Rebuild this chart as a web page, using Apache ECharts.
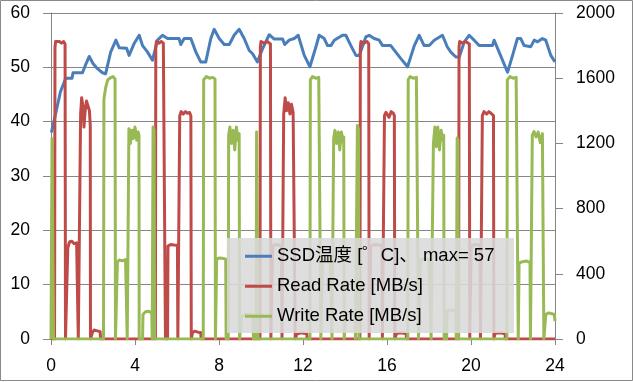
<!DOCTYPE html>
<html>
<head>
<meta charset="utf-8">
<script src="https://cdn.jsdelivr.net/npm/echarts@6/dist/echarts.min.js"></script>
<style>
html,body{margin:0;padding:0;background:#fff;}
#chart{width:633px;height:382px;}
</style>
</head>
<body>
<div id="chart"></div>
<script>
// ---- data ----
const seriesNames = ['SSD温度 [゜C]、 max= 57', 'Read Rate [MB/s]', 'Write Rate [MB/s]'];
const xTicks = [0, 4, 8, 12, 16, 20, 24];

// SSD temperature [°C] : [hour, value]
const tempPoints = [
 [0.02,38],[0.25,42],[0.45,45.5],[0.7,48],[1.0,48],[1.05,49],[1.5,49],[1.65,50.5],[1.82,52],
 [2.0,50.7],[2.2,49.8],[2.45,49],[2.6,48.8],[2.84,52.8],[3.09,55],[3.25,53.6],[3.6,53.5],[3.72,52.2],
 [3.96,54.4],[4.2,55.9],[4.36,54],[4.6,52.8],[4.83,51.3],[5.07,55],[5.31,55.9],[5.55,55.3],[6.1,55.3],
 [6.18,54.2],[6.34,55.3],[6.66,55.3],[6.9,52.8],[7.13,51],[7.37,51],[7.61,55.3],[7.77,57],[8.01,55.3],
 [8.25,54.2],[8.49,54.2],[8.72,55.9],[8.96,57],[9.2,55.3],[9.44,53.1],[9.6,52.5],[9.83,51],[10.07,53.4],
 [10.39,56],[10.63,55.2],[11.03,55.2],[11.13,54.2],[11.34,55],[11.58,55.3],[11.77,55.9],[12.06,52.2],
 [12.33,50.1],[12.61,53.7],[12.77,55.9],[13.01,55.3],[13.17,54],[13.33,54],[13.49,55],[13.88,55.9],
 [14.04,55.9],[14.28,54],[14.52,52.2],[14.68,52.2],[14.99,55.6],[15.15,55.9],[15.39,55.3],[15.63,55],
 [15.79,54],[16.18,54],[16.42,52.8],[16.66,51.6],[16.98,50.1],[17.3,54],[17.53,55.9],[17.77,54],
 [18.01,54],[18.25,55],[18.64,55.9],[18.88,53.7],[19.04,52.8],[19.28,51.9],[19.44,51.9],[19.68,54.7],
 [19.91,55.9],[20.15,55],[20.39,54],[20.63,54],[21.02,54],[21.1,55],[21.34,52.8],[21.74,49.1],
 [21.98,52.2],[22.21,55.3],[22.37,55.3],[22.53,54],[22.85,53.8],[23.01,55],[23.17,54.7],[23.4,55.3],
 [23.56,55],[23.8,52.2],[24,51]
];

// Read Rate [MB/s] : [hour, value]
const readPoints = [
 [0,0],[0.17,0],[0.19,1790],[0.22,1825],[0.3,1815],[0.4,1825],[0.5,1815],[0.6,1825],[0.67,1810],[0.69,0],
 [0.78,0],[0.80,560],[0.88,595],[0.98,600],[1.1,585],[1.22,590],[1.28,580],[1.30,0],
 [1.39,0],[1.41,1380],[1.46,1480],[1.52,1430],[1.57,1300],[1.62,1390],[1.69,1460],[1.76,1430],[1.83,1400],[1.87,1310],[1.88,0],
 [1.95,0],[1.97,40],[2.05,55],[2.2,50],[2.34,45],[2.36,0],
 [4.97,0],[4.99,1790],[5.02,1825],[5.15,1815],[5.25,1825],[5.35,1815],[5.43,1810],[5.45,0],
 [5.55,0],[5.57,570],[5.7,580],[5.85,577],[6.02,575],[6.04,0],
 [6.11,0],[6.13,1370],[6.2,1395],[6.3,1380],[6.4,1395],[6.5,1385],[6.6,1390],[6.66,1370],[6.68,0],
 [6.72,0],[6.74,40],[6.85,48],[7.0,42],[7.13,40],[7.15,0],
 [9.95,0],[9.97,1790],[10.0,1825],[10.15,1815],[10.3,1825],[10.45,1810],[10.47,0],
 [10.54,0],[10.56,570],[10.7,580],[10.85,577],[10.98,575],[11.0,0],
 [11.06,0],[11.08,1380],[11.15,1480],[11.22,1400],[11.3,1450],[11.38,1380],[11.45,1440],[11.53,1390],[11.61,1380],[11.63,0],
 [11.69,0],[11.71,30],[11.9,38],[12.18,32],[12.2,0],
 [14.71,0],[14.73,1790],[14.76,1825],[14.9,1815],[15.05,1825],[15.13,1810],[15.15,0],
 [15.21,0],[15.23,570],[15.4,580],[15.6,577],[15.76,575],[15.78,0],
 [15.86,0],[15.88,1370],[15.95,1390],[16.1,1360],[16.2,1395],[16.3,1385],[16.35,1370],[16.37,0],
 [16.44,0],[16.46,35],[16.7,38],[16.91,32],[16.93,0],
 [19.41,0],[19.43,1790],[19.46,1825],[19.6,1815],[19.75,1825],[19.92,1810],[19.94,0],
 [19.99,0],[20.01,570],[20.2,580],[20.43,575],[20.45,0],
 [20.52,0],[20.54,1370],[20.62,1395],[20.75,1380],[20.85,1395],[20.95,1385],[21.07,1370],[21.09,0],
 [21.12,0],[21.14,35],[21.4,38],[21.62,32],[21.64,0],
 [24,0]
];

// Write Rate [MB/s] : [hour, value]
const writePoints = [
 [0,0],[0.03,0],[0.05,1230],[0.1,1220],[0.12,0],
 [2.5,0],[2.52,1470],[2.6,1540],[2.7,1590],[2.8,1600],[2.95,1610],[3.05,1595],[3.07,0],
 [3.14,0],[3.16,470],[3.25,485],[3.4,480],[3.55,487],[3.62,480],[3.63,0],
 [3.69,0],[3.71,1290],[3.78,1200],[3.85,1280],[3.92,1230],[4.0,1300],[4.08,1220],[4.15,1270],[4.19,1250],[4.2,0],
 [4.36,0],[4.38,150],[4.5,167],[4.65,170],[4.8,160],[4.82,0],
 [4.84,0],[4.86,1300],[4.91,1280],[4.93,0],
 [7.25,0],[7.27,1590],[7.4,1610],[7.55,1600],[7.7,1605],[7.81,1595],[7.83,0],
 [7.87,0],[7.89,490],[8.0,497],[8.15,495],[8.32,490],[8.34,0],
 [8.44,0],[8.46,1250],[8.52,1300],[8.6,1200],[8.68,1280],[8.75,1160],[8.83,1300],[8.9,1220],[8.96,1260],[8.98,0],
 [9.06,0],[9.08,140],[9.3,152],[9.5,150],[9.62,145],[9.64,0],
 [9.77,0],[9.79,1270],[9.84,1260],[9.86,0],
 [12.33,0],[12.35,1590],[12.45,1610],[12.6,1600],[12.75,1605],[12.83,1595],[12.85,0],
 [12.91,0],[12.93,485],[13.1,492],[13.3,488],[13.36,485],[13.38,0],
 [13.44,0],[13.46,1230],[13.52,1280],[13.6,1200],[13.68,1270],[13.75,1160],[13.83,1270],[13.9,1210],[13.94,1240],[13.96,0],
 [14.02,0],[14.04,150],[14.25,160],[14.48,155],[14.5,0],
 [14.57,0],[14.59,1310],[14.64,1290],[14.66,0],
 [16.99,0],[17.01,1590],[17.1,1610],[17.25,1600],[17.4,1605],[17.48,1595],[17.5,0],
 [17.57,0],[17.59,485],[17.8,492],[18.0,488],[18.08,485],[18.1,0],
 [18.19,0],[18.21,1200],[18.28,1300],[18.35,1180],[18.42,1300],[18.5,1160],[18.58,1280],[18.65,1220],[18.7,1250],[18.72,0],
 [18.84,0],[18.86,170],[19.05,178],[19.28,172],[19.3,0],
 [19.32,0],[19.34,1233],[19.38,1220],[19.4,0],
 [21.71,0],[21.73,1590],[21.85,1610],[22.0,1600],[22.15,1605],[22.23,1595],[22.25,0],
 [22.27,0],[22.29,465],[22.45,474],[22.65,478],[22.81,470],[22.83,0],
 [22.9,0],[22.92,1250],[23.0,1272],[23.1,1240],[23.2,1270],[23.3,1205],[23.4,1260],[23.45,1250],[23.47,0],
 [23.54,0],[23.56,150],[23.7,160],[23.85,155],[23.97,150],[24,110]
];

// ---- chart ----
const chart = echarts.init(document.getElementById('chart'), null, {renderer: 'canvas'});
const gray = '#868686';
const txt = {color: '#000', fontSize: 17.5, fontFamily: 'Liberation Sans, Arial, sans-serif'};
const plain = v => String(v);

const option = {
  animation: false,
  backgroundColor: '#fff',
  grid: {left: 51, right: 78, top: 13, bottom: 43, containLabel: false},
  xAxis: {
    type: 'value', min: 0, max: 24, interval: 4,
    axisLine: {show: true, onZero: false, lineStyle: {color: gray, width: 1}},
    axisTick: {show: true, inside: false, length: 6, lineStyle: {color: gray}},
    axisLabel: Object.assign({margin: 18, formatter: v => xTicks.includes(v) ? String(v) : ''}, txt),
    splitLine: {show: false}
  },
  yAxis: [
    {
      type: 'value', min: 0, max: 60, interval: 10, position: 'left',
      axisLine: {show: true, lineStyle: {color: gray, width: 1}},
      axisTick: {show: true, inside: false, length: 8, lineStyle: {color: gray}},
      axisLabel: Object.assign({margin: 21, formatter: plain}, txt),
      splitLine: {show: true, lineStyle: {color: gray, width: 1}}
    },
    {
      type: 'value', min: 0, max: 2000, interval: 400, position: 'right',
      axisLine: {show: true, lineStyle: {color: gray, width: 1}},
      axisTick: {show: true, inside: false, length: 8, lineStyle: {color: gray}},
      axisLabel: Object.assign({margin: 21, formatter: plain}, txt),
      splitLine: {show: false}
    }
  ],
  legend: {
    orient: 'vertical', left: 245, top: 247, padding: 0,
    itemWidth: 27, itemHeight: 3, itemGap: 11.5, itemTextGap: 4,
    icon: 'rect', z: 10,
    textStyle: {color: '#000', fontSize: 18.5, fontFamily: 'Liberation Sans, Noto Sans CJK JP, sans-serif'},
    data: seriesNames
  },
  graphic: [
    {type: 'rect', z: 5, silent: true, shape: {x: 227, y: 238, width: 287, height: 95},
     style: {fill: 'rgba(217,217,217,0.88)'}},
    {type: 'rect', z: 100, silent: true, shape: {x: 0.5, y: 0.5, width: 632, height: 380},
     style: {fill: 'none', stroke: '#898989', lineWidth: 1}}
  ],
  series: [
    {name: seriesNames[0], type: 'line', yAxisIndex: 0, data: tempPoints, showSymbol: false, symbol: 'none',
     color: '#4A7EBB', lineStyle: {width: 3, color: '#4A7EBB', join: 'round'}, z: 2},
    {name: seriesNames[1], type: 'line', yAxisIndex: 1, data: readPoints, showSymbol: false, symbol: 'none',
     color: '#BE4B48', lineStyle: {width: 3, color: '#BE4B48', join: 'round'}, z: 3},
    {name: seriesNames[2], type: 'line', yAxisIndex: 1, data: writePoints, showSymbol: false, symbol: 'none',
     color: '#98B954', lineStyle: {width: 3, color: '#98B954', join: 'round'}, z: 4}
  ]
};
chart.setOption(option);
</script>
</body>
</html>
